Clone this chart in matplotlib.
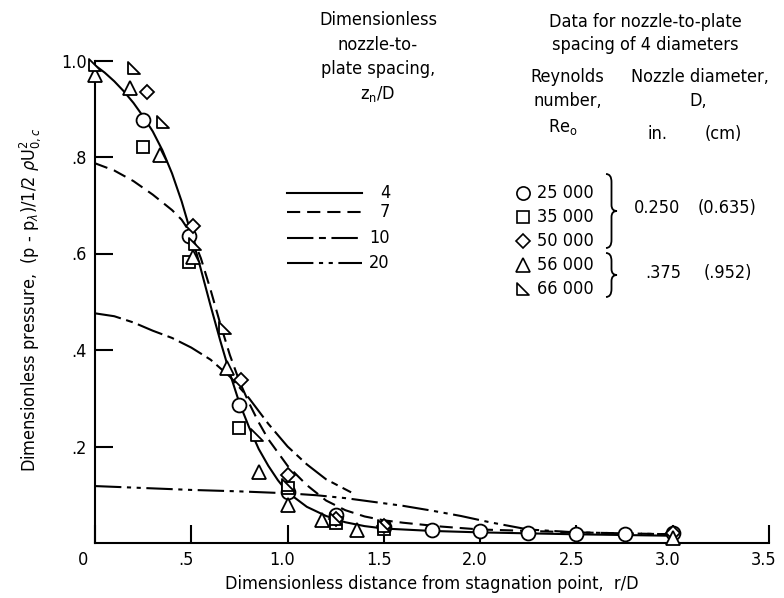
import matplotlib
matplotlib.use('Agg')
import matplotlib.pyplot as plt
from matplotlib.path import Path
from matplotlib.lines import Line2D
from matplotlib.patches import PathPatch
from matplotlib.transforms import Affine2D, ScaledTranslation

plt.rcParams['font.family'] = ['DejaVu Sans']
plt.rcParams['font.stretch'] = 'condensed'
plt.rcParams['mathtext.fontset'] = 'dejavusans'
plt.rcParams['lines.scale_dashes'] = False

# faired curves, one per nozzle-to-plate spacing z_n/D
r_4 = [0, 0.05, 0.1, 0.15, 0.2, 0.25, 0.3, 0.35, 0.4, 0.45, 0.5, 0.55, 0.6, 0.65, 0.7,
       0.75, 0.8, 0.85, 0.9, 0.95, 1.0, 1.1, 1.2, 1.3, 1.4, 1.5, 1.75, 2.0, 2.5, 3.0]
p_4 = [0.99, 0.975, 0.957, 0.936, 0.912, 0.884, 0.853, 0.814, 0.766, 0.708, 0.64, 0.567,
       0.492, 0.42, 0.352, 0.29, 0.24, 0.195, 0.16, 0.13, 0.105, 0.075, 0.056, 0.043,
       0.035, 0.03, 0.025, 0.022, 0.018, 0.015]
r_7 = [0, 0.1, 0.2, 0.3, 0.4, 0.45, 0.5, 0.55, 0.6, 0.65, 0.7, 0.75, 0.8, 0.85, 0.9,
       1.0, 1.1, 1.2, 1.3, 1.4, 1.5, 1.6, 1.8, 2.0, 2.5, 3.0]
p_7 = [0.787, 0.772, 0.75, 0.722, 0.69, 0.67, 0.64, 0.59, 0.525, 0.455, 0.39, 0.335,
       0.29, 0.25, 0.215, 0.16, 0.12, 0.088, 0.068, 0.055, 0.047, 0.042, 0.034, 0.028,
       0.022, 0.018]
r_10 = [0, 0.1, 0.2, 0.3, 0.4, 0.5, 0.6, 0.7, 0.8, 0.9, 1.0, 1.1, 1.2, 1.33]
p_10 = [0.476, 0.47, 0.457, 0.44, 0.425, 0.405, 0.38, 0.345, 0.3, 0.247, 0.2, 0.163,
        0.132, 0.105]
r_20 = [0, 0.25, 0.5, 0.75, 1.0, 1.15, 1.3, 1.45, 1.6, 1.75, 1.9, 2.05, 2.25, 2.5, 2.75, 3.0]
p_20 = [0.118, 0.114, 0.11, 0.107, 0.103, 0.099, 0.093, 0.085, 0.077, 0.067, 0.056,
        0.043, 0.028, 0.022, 0.02, 0.018]

# measured points for spacing of 4 diameters
r_25k = [0.25, 0.49, 0.75, 1.0, 1.25, 1.5, 1.75, 2.0, 2.25, 2.5, 2.75, 3.0]
p_25k = [0.877, 0.636, 0.286, 0.106, 0.057, 0.034, 0.026, 0.024, 0.02, 0.019, 0.019, 0.02]
r_35k = [0.25, 0.49, 0.75, 1.0, 1.25, 1.5]
p_35k = [0.82, 0.583, 0.238, 0.115, 0.041, 0.03]
r_50k = [0.27, 0.51, 0.76, 1.0, 1.25, 1.5, 3.0]
p_50k = [0.935, 0.657, 0.338, 0.141, 0.05, 0.035, 0.02]
r_56k = [0, 0.18, 0.34, 0.51, 0.685, 0.85, 1.0, 1.18, 1.36, 3.0]
p_56k = [0.97, 0.943, 0.804, 0.593, 0.362, 0.148, 0.079, 0.048, 0.027, 0.01]
r_66k = [0, 0.2, 0.355, 0.52, 0.675, 0.84, 1.0, 1.25, 1.5]
p_66k = [0.99, 0.984, 0.873, 0.62, 0.445, 0.224, 0.12, 0.05, 0.035]

spacing_labels = ['4', '7', '10', '20']
reynolds_labels = ['25 000', '35 000', '50 000', '56 000', '66 000']
x_ticks = [0, 0.5, 1.0, 1.5, 2.0, 2.5, 3.0, 3.5]
x_ticklabels = ['0', '.5', '1.0', '1.5', '2.0', '2.5', '3.0', '3.5']
y_ticks = [0.2, 0.4, 0.6, 0.8, 1.0]
y_ticklabels = ['.2', '.4', '.6', '.8', '1.0']

FS = 13
W, H = 784, 598

fig = plt.figure(figsize=(W / 100, H / 100), dpi=100)
# pixel coords, origin top-left, for the annotation block
px = Affine2D().scale(1 / W, -1 / H).translate(0, 1) + fig.transFigure

ax = fig.add_axes([95 / W, 1 - 543 / H, (769 - 95) / W, (543 - 60.5) / H])
ax.set_xlim(0, 3.5)
ax.set_ylim(0, 1.0)
for s in ['top', 'right']:
    ax.spines[s].set_visible(False)
for s in ['left', 'bottom']:
    ax.spines[s].set_linewidth(1.5)
ax.set_xticks(x_ticks)
ax.set_xticklabels(x_ticklabels)
ax.set_yticks(y_ticks)
ax.set_yticklabels(y_ticklabels)
ax.tick_params(direction='in', length=13, width=1.5, labelsize=FS, pad=6)
for i, lab in enumerate(ax.get_xticklabels()):
    dx = -12 if i == 0 else -5
    lab.set_transform(lab.get_transform() + ScaledTranslation(dx / 100, 0, fig.dpi_scale_trans))

styles = ['-', (0, (9.5, 5)), (0, (19, 4, 5, 4)), (0, (19, 4, 3, 4, 3, 4))]
curves = [(r_4, p_4), (r_7, p_7), (r_10, p_10), (r_20, p_20)]
for (r, p), ls in zip(curves, styles):
    ax.plot(r, p, color='black', lw=1.5, ls=ls)

rtri = Path([(-1, 1), (-1, -1), (1, -1), (-1, 1)],
            [Path.MOVETO, Path.LINETO, Path.LINETO, Path.CLOSEPOLY])
markers = [('o', 10), ('s', 9), ('D', 7), ('^', 10), (rtri, 9)]
points = [(r_25k, p_25k), (r_35k, p_35k), (r_50k, p_50k), (r_56k, p_56k), (r_66k, p_66k)]
for (r, p), (m, ms) in zip(points, markers):
    ax.plot(r, p, ls='none', marker=m, ms=ms, mfc='white', mec='black', mew=1.3,
            clip_on=False, zorder=3)

ax.set_xlabel('Dimensionless distance from stagnation point,  r/D', fontsize=FS, labelpad=4)
fig.text(30, 300, r'Dimensionless pressure,  (p - p$_\lambda$)/1/2 $\rho$U$_{0,c}^{2}$',
         transform=px, rotation=90, ha='center', va='center', fontsize=FS)


def txt(x, y, s, ha='center'):
    fig.text(x, y, s, transform=px, ha=ha, va='center', fontsize=FS)


# line key
for i, t in enumerate(['Dimensionless', 'nozzle-to-', 'plate spacing,', r'z$_\mathregular{n}$/D']):
    txt(378, 20 + 24.5 * i, t)
for i, (lab, ls) in enumerate(zip(spacing_labels, styles)):
    y = [193, 212, 238, 263][i]
    fig.add_artist(Line2D([287, 362], [y, y], transform=px, color='black', lw=1.5, ls=ls))
    txt(390, y, lab, ha='right')

# symbol key
txt(645, 22, 'Data for nozzle-to-plate')
txt(645, 45, 'spacing of 4 diameters')
txt(567, 77, 'Reynolds')
txt(568, 101, 'number,')
txt(563, 127, r'Re$_\mathregular{o}$')
txt(700, 77, 'Nozzle diameter,')
txt(698, 101, 'D,')
txt(658, 134, 'in.')
txt(723, 134, '(cm)')
for i, (lab, (m, ms)) in enumerate(zip(reynolds_labels, markers)):
    y = 193 + 24 * i
    fig.add_artist(Line2D([523], [y], transform=px, ls='none', marker=m, ms=ms * 0.95,
                          mfc='white', mec='black', mew=1.2))
    txt(537, y, lab, ha='left')


def brace(x, y0, y1, w=11):
    ym = (y0 + y1) / 2
    xm = x + w / 2
    verts = [(x, y0), (xm, y0), (xm, y0 + 8), (xm, ym - 6), (xm, ym), (x + w, ym),
             (xm, ym), (xm, ym + 6), (xm, y1 - 8), (xm, y1), (x, y1)]
    codes = [Path.MOVETO, Path.CURVE3, Path.CURVE3, Path.LINETO, Path.CURVE3, Path.CURVE3,
             Path.CURVE3, Path.CURVE3, Path.LINETO, Path.CURVE3, Path.CURVE3]
    fig.add_artist(PathPatch(Path(verts, codes), transform=px, fill=False, lw=1.3))


brace(606, 174, 248)
brace(606, 253, 297)
txt(657, 208, '0.250')
txt(727, 208, '(0.635)')
txt(663, 273, '.375')
txt(728, 273, '(.952)')

fig.savefig('out.png', dpi=100)
